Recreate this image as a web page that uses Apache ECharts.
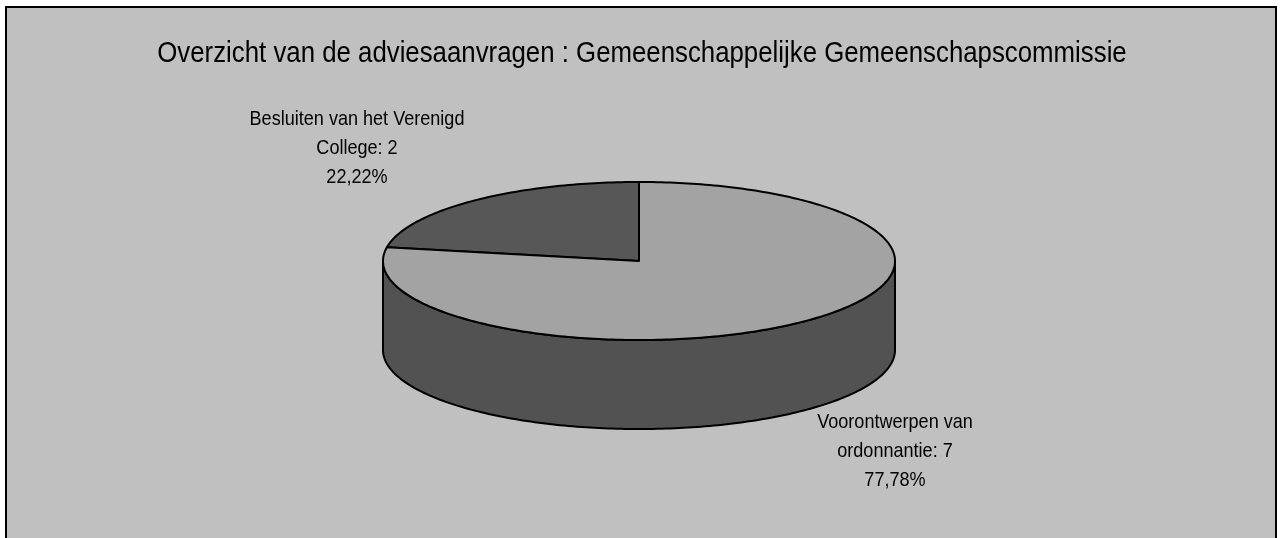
<!DOCTYPE html>
<html>
<head>
<meta charset="utf-8">
<script src="https://cdn.jsdelivr.net/npm/echarts@6/dist/echarts.min.js"></script>
<style>
  html, body { margin: 0; padding: 0; background: #fff; }
  #chart { width: 1281px; height: 538px; }
</style>
</head>
<body>
<div id="chart"></div>
<script>
// data
var categories = ['Besluiten van het Verenigd\nCollege', 'Voorontwerpen van\nordonnantie'];
var values = [2, 7];
var percentLabels = ['22,22%', '77,78%'];
var titleText = 'Overzicht van de adviesaanvragen : Gemeenschappelijke Gemeenschapscommissie';

// layout / look
var topColors = ['#575757', '#a3a3a3'];
var sideColors = ['#2c2c2c', '#525252'];
var cx = 639, cy = 261, rx = 256, ry = 79, depth = 89;
var labelPos = [[357, 148], [895, 451]];
var FONT = '"Liberation Sans", Arial, sans-serif';

var total = values.reduce(function (a, b) { return a + b; }, 0);
var starts = [], ends = [];
var acc = 0;
values.forEach(function (v) {
  starts.push(90 + acc / total * 360);
  acc += v;
  ends.push(90 + acc / total * 360);
});

function pt(deg, dy) {
  var r = deg * Math.PI / 180;
  return [cx + rx * Math.cos(r), cy - ry * Math.sin(r) + (dy || 0)];
}

function arcPts(a1, a2, dy) {
  var pts = [];
  var n = Math.max(2, Math.ceil(Math.abs(a2 - a1)));
  for (var k = 0; k <= n; k++) {
    pts.push(pt(a1 + (a2 - a1) * k / n, dy));
  }
  return pts;
}

var chart = echarts.init(document.getElementById('chart'));

function renderItem(params, api) {
  var i = params.dataIndex;
  var a1 = starts[i], a2 = ends[i];
  var children = [];
  // front wall (visible where the angle is in the lower half)
  [[180, 360], [540, 720]].forEach(function (w) {
    var s = Math.max(a1, w[0]), e = Math.min(a2, w[1]);
    if (e > s) {
      var pts = arcPts(s, e, 0).concat(arcPts(e, s, depth));
      children.push({
        type: 'polygon', z2: 1,
        shape: { points: pts },
        style: { fill: sideColors[i], stroke: '#000', lineWidth: 2, lineJoin: 'round' }
      });
    }
  });
  // top face
  children.push({
    type: 'polygon', z2: 10,
    shape: { points: [[cx, cy]].concat(arcPts(a1, a2, 0)) },
    style: { fill: topColors[i], stroke: '#000', lineWidth: 2, lineJoin: 'round' }
  });
  // label
  children.push({
    type: 'text', z2: 20,
    x: labelPos[i][0], y: labelPos[i][1], scaleX: 0.86,
    style: {
      text: categories[i] + ': ' + api.value(0) + '\n' + percentLabels[i],
      x: 0, y: 0,
      font: '21px ' + FONT,
      fill: '#000',
      align: 'center',
      verticalAlign: 'middle',
      lineHeight: 29
    }
  });
  return { type: 'group', children: children };
}

chart.setOption({
  backgroundColor: '#ffffff',
  animation: false,
  graphic: [
    {
      type: 'rect', z: -10,
      shape: { x: 6, y: 7, width: 1270, height: 560 },
      style: { fill: '#c0c0c0', stroke: '#000', lineWidth: 2 }
    },
    {
      type: 'text', z: 10,
      x: 642, y: 54, scaleX: 0.86,
      style: {
        text: titleText,
        x: 0, y: 0,
        font: '30px ' + FONT,
        fill: '#000',
        align: 'center',
        verticalAlign: 'middle'
      }
    }
  ],
  series: [{
    type: 'custom',
    coordinateSystem: 'none',
    clip: false,
    data: values.map(function (v) { return [v]; }),
    renderItem: renderItem
  }]
});
</script>
</body>
</html>
